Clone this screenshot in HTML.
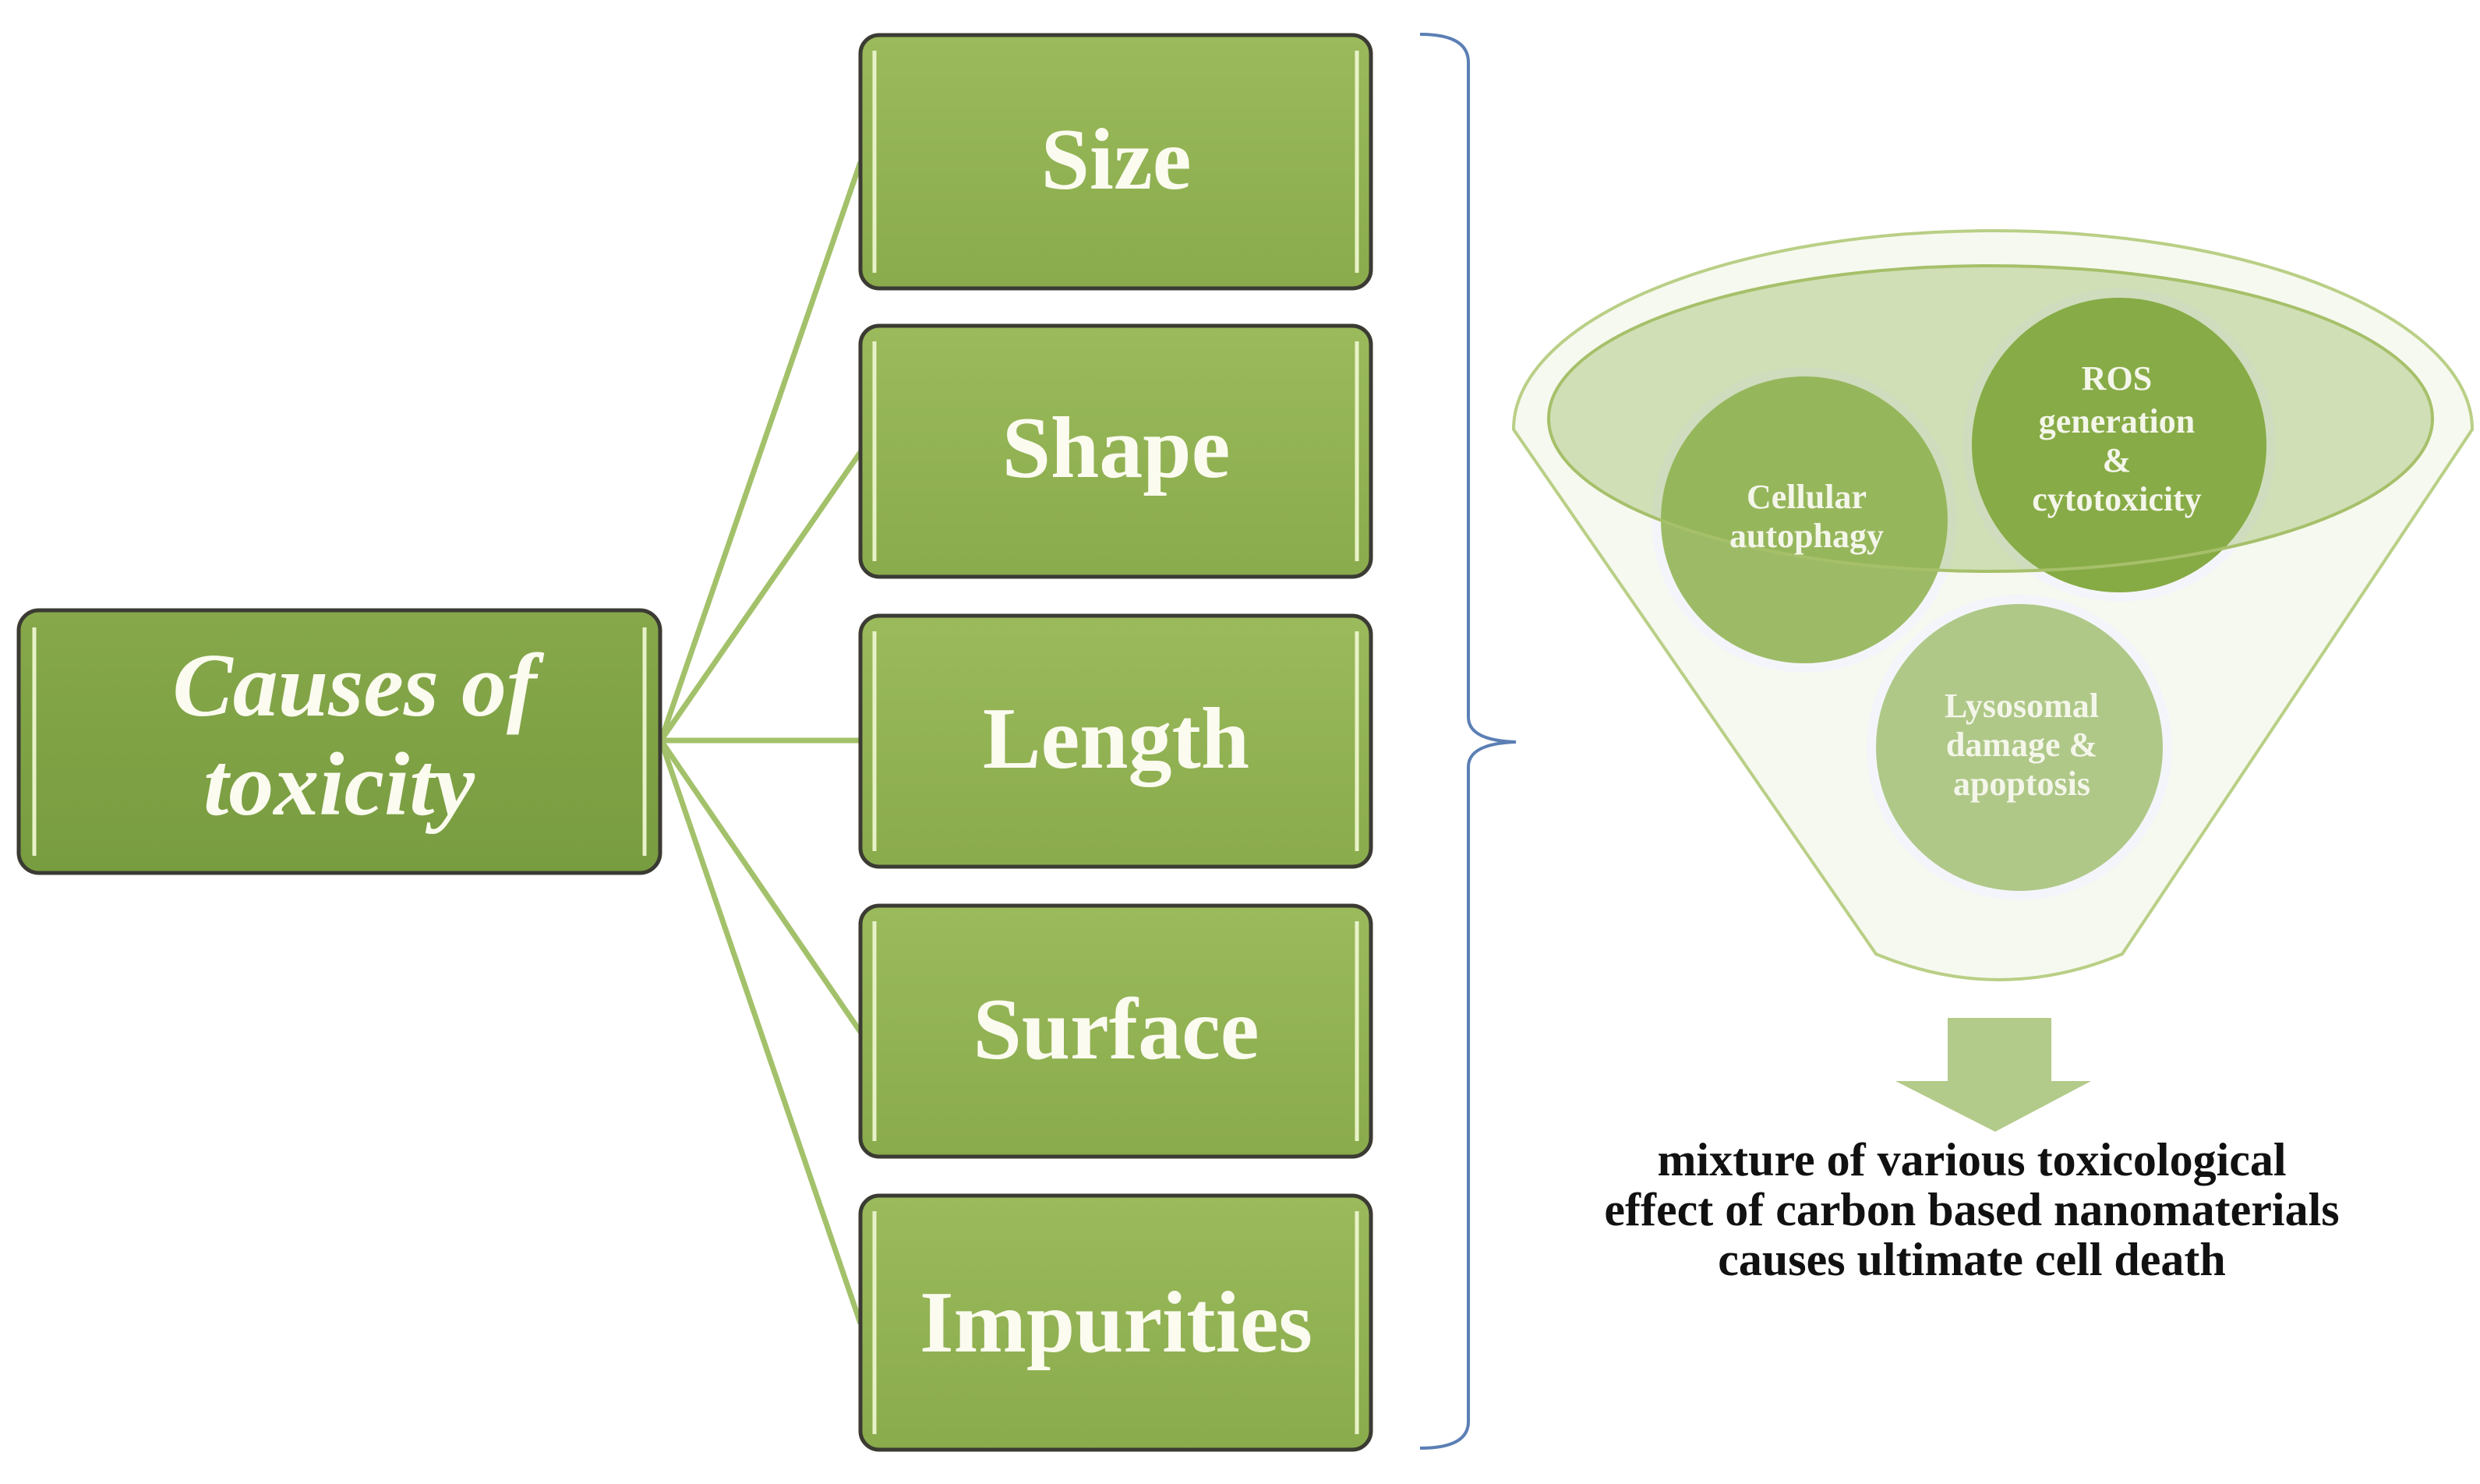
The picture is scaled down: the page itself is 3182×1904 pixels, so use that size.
<!DOCTYPE html>
<html><head><meta charset="utf-8"><style>
body{margin:0;background:#fff;}
svg{display:block}
</style></head><body>
<svg width="3182" height="1904" viewBox="0 0 3182 1904" xmlns="http://www.w3.org/2000/svg">
<defs>
<linearGradient id="g" x1="0" y1="0" x2="0" y2="1"><stop offset="0" stop-color="#9aba5c"/><stop offset="1" stop-color="#8aab4c"/></linearGradient>
<linearGradient id="gc" x1="0" y1="0" x2="0" y2="1"><stop offset="0" stop-color="#86a84a"/><stop offset="1" stop-color="#789c40"/></linearGradient>
</defs>
<g stroke="#a3c16a" stroke-width="7" fill="none">
<line x1="848" y1="950" x2="1104" y2="208"/>
<line x1="848" y1="950" x2="1104" y2="580"/>
<line x1="848" y1="950" x2="1104" y2="950"/>
<line x1="848" y1="950" x2="1104" y2="1324"/>
<line x1="848" y1="950" x2="1104" y2="1698"/>
</g>
<g font-family="Liberation Serif, serif" font-weight="bold" fill="#fbfbf0" text-anchor="middle">
<rect x="24" y="783" width="823" height="337" rx="26" fill="url(#gc)" stroke="#3b3b33" stroke-width="5"/>
<line x1="44" y1="805" x2="44" y2="1098" stroke="#e8f2c8" stroke-width="5"/>
<line x1="827" y1="805" x2="827" y2="1098" stroke="#e8f2c8" stroke-width="5"/>
<text x="455" y="918" font-size="116" font-style="italic">Causes of</text>
<text x="435" y="1045" font-size="116" font-style="italic">toxicity</text>
<g font-size="112">
<rect x="1104" y="45" width="655" height="325" rx="24" fill="url(#g)" stroke="#3b3b33" stroke-width="5"/>
<line x1="1122" y1="65" x2="1122" y2="350" stroke="#e8f2c8" stroke-width="5"/><line x1="1741" y1="65" x2="1741" y2="350" stroke="#e8f2c8" stroke-width="5"/>
<text x="1432" y="242">Size</text>
<rect x="1104" y="418" width="655" height="322" rx="24" fill="url(#g)" stroke="#3b3b33" stroke-width="5"/>
<line x1="1122" y1="438" x2="1122" y2="720" stroke="#e8f2c8" stroke-width="5"/><line x1="1741" y1="438" x2="1741" y2="720" stroke="#e8f2c8" stroke-width="5"/>
<text x="1432" y="612">Shape</text>
<rect x="1104" y="790" width="655" height="322" rx="24" fill="url(#g)" stroke="#3b3b33" stroke-width="5"/>
<line x1="1122" y1="810" x2="1122" y2="1092" stroke="#e8f2c8" stroke-width="5"/><line x1="1741" y1="810" x2="1741" y2="1092" stroke="#e8f2c8" stroke-width="5"/>
<text x="1432" y="985">Length</text>
<rect x="1104" y="1162" width="655" height="322" rx="24" fill="url(#g)" stroke="#3b3b33" stroke-width="5"/>
<line x1="1122" y1="1182" x2="1122" y2="1464" stroke="#e8f2c8" stroke-width="5"/><line x1="1741" y1="1182" x2="1741" y2="1464" stroke="#e8f2c8" stroke-width="5"/>
<text x="1432" y="1358">Surface</text>
<rect x="1104" y="1534" width="655" height="326" rx="24" fill="url(#g)" stroke="#3b3b33" stroke-width="5"/>
<line x1="1122" y1="1554" x2="1122" y2="1840" stroke="#e8f2c8" stroke-width="5"/><line x1="1741" y1="1554" x2="1741" y2="1840" stroke="#e8f2c8" stroke-width="5"/>
<text x="1432" y="1734">Impurities</text>
</g>
</g>
<path d="M1822 44 Q1884 44 1884 80 L1884 920 Q1884 950 1945 952 Q1884 954 1884 984 L1884 1824 Q1884 1858 1822 1858" fill="none" stroke="#5b7fb5" stroke-width="4"/>
<!-- funnel -->
<path d="M1942 551 A615 255 0 0 1 3172 551 L2723 1224 Q2565 1290 2407 1224 Z" fill="#f6f9ef" stroke="#b9cf86" stroke-width="4"/>
<circle cx="2315" cy="667" r="190" fill="#9dbb66" stroke="#f4f5fa" stroke-width="12"/>
<circle cx="2719" cy="571" r="195" fill="#86aa44" stroke="#f4f5fa" stroke-width="12"/>
<circle cx="2591" cy="959" r="190" fill="#afc888" stroke="#f4f5fa" stroke-width="12"/>
<ellipse cx="2554" cy="537" rx="567" ry="196" fill="#8aae4a" fill-opacity="0.35" stroke="#a6c06a" stroke-width="4"/>
<g font-family="Liberation Serif, serif" font-weight="bold" fill="#f4f6ea" text-anchor="middle" font-size="44">
<text x="2318" y="652">Cellular</text><text x="2318" y="702">autophagy</text>
<text x="2716" y="500">ROS</text><text x="2716" y="555">generation</text><text x="2716" y="605">&amp;</text><text x="2716" y="655">cytotoxicity</text>
<text x="2594" y="920">Lysosomal</text><text x="2594" y="970">damage &amp;</text><text x="2594" y="1020">apoptosis</text>
</g>
<path d="M2499 1306 L2632 1306 L2632 1387 L2683 1387 L2560 1452 L2432 1387 L2499 1387 Z" fill="#b3cb8a"/>
<g font-family="Liberation Serif, serif" font-weight="bold" fill="#111" text-anchor="middle" font-size="60">
<text x="2530" y="1508">mixture of  various toxicological</text>
<text x="2530" y="1572">effect of carbon based nanomaterials</text>
<text x="2530" y="1636">causes ultimate cell death</text>
</g>
</svg>
</body></html>
